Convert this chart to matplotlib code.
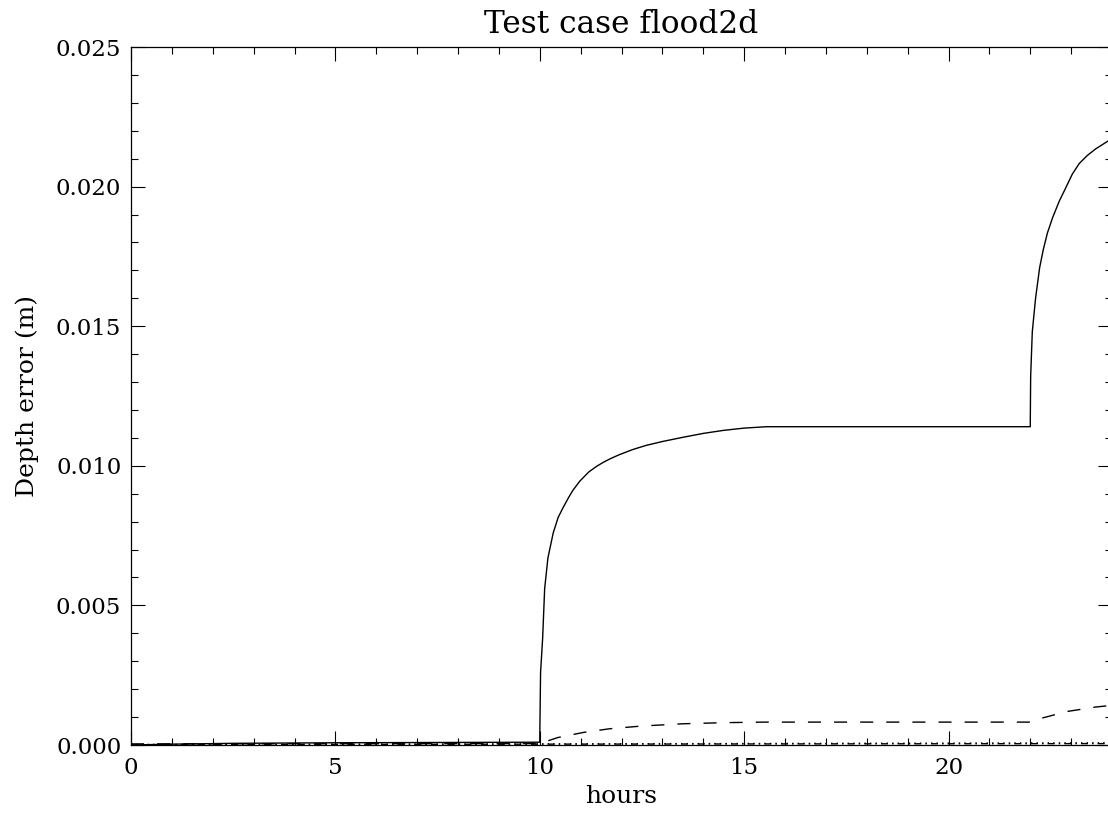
import matplotlib
matplotlib.use("Agg")
import matplotlib.pyplot as plt
from matplotlib.ticker import MultipleLocator, FormatStrFormatter

# Depth error time series (hours, metres)
hours_main = [0.0, 1.0, 2.5, 5.0, 7.5, 10.0, 10.005, 10.02, 10.07, 10.12, 10.2,
              10.33, 10.45, 10.57, 10.7, 10.81, 10.98, 11.2, 11.39, 11.55,
              11.72, 11.95, 12.27, 12.6, 13.0, 13.5, 14.0, 14.5, 15.0, 15.55,
              22.0, 22.01, 22.05, 22.13, 22.23, 22.32, 22.42, 22.55, 22.71,
              22.85, 23.03, 23.2, 23.4, 23.6, 23.89, 24.0]
err_main = [0.0, 0.00003, 0.00006, 0.00008, 0.00009, 0.0001, 0.0008, 0.0026,
            0.0038, 0.0056, 0.0067, 0.0076, 0.00815, 0.0085, 0.00885,
            0.00912, 0.00945, 0.00978, 0.00998, 0.01012, 0.01025, 0.0104,
            0.01058, 0.01073, 0.01087, 0.01102, 0.01116, 0.01127, 0.01135,
            0.0114,
            0.0114, 0.0132, 0.0148, 0.0160, 0.0171, 0.01775, 0.01834, 0.0189,
            0.01948, 0.0199, 0.02045, 0.02083, 0.02112, 0.02135, 0.02162,
            0.0217]

hours_dash = [0.0, 10.0, 10.2, 10.45, 11.07, 11.7, 12.5, 13.5, 14.5, 15.5,
              22.0, 22.2, 22.9, 23.6, 24.0]
err_dash = [0.00004, 0.00005, 0.00015, 0.00027, 0.00045, 0.00058, 0.00068,
            0.00076, 0.0008, 0.00082, 0.00082, 0.00093, 0.0012, 0.00136,
            0.00142]

hours_dot = [0.0, 10.0, 24.0]
err_dot = [0.00002, 0.00004, 0.00008]

hours_dashdot = [0.0, 10.0, 24.0]
err_dashdot = [0.00001, 0.00003, 0.00005]

title = "Test case flood2d"
xlabel = "hours"
ylabel = "Depth error (m)"

FONT = "DejaVu Serif"

fig = plt.figure(figsize=(11.08, 8.19), dpi=100)
ax = fig.add_axes([131 / 1108, 74 / 819, 981 / 1108, 698 / 819])

lw = 1.0
ax.plot(hours_main, err_main, color="black", lw=lw, solid_joinstyle="round")
ax.plot(hours_dash, err_dash, color="black", lw=lw, dashes=(9.4, 9.4))
ax.plot(hours_dot, err_dot, color="black", lw=lw, dashes=(1, 3))
ax.plot(hours_dashdot, err_dashdot, color="black", lw=lw, dashes=(5, 3, 1, 3))

ax.set_xlim(0, 24)
ax.set_ylim(0, 0.025)

ax.xaxis.set_major_locator(MultipleLocator(5))
ax.xaxis.set_minor_locator(MultipleLocator(1))
ax.yaxis.set_major_locator(MultipleLocator(0.005))
ax.yaxis.set_minor_locator(MultipleLocator(0.001))
ax.yaxis.set_major_formatter(FormatStrFormatter("%.3f"))
ax.xaxis.set_major_formatter(FormatStrFormatter("%d"))

ax.tick_params(which="both", direction="in", top=True, right=True,
               width=0.8, colors="black")
ax.tick_params(which="major", length=10)
ax.tick_params(which="minor", length=5)
ax.tick_params(axis="y", which="major", pad=7, labelsize=16.5)
ax.tick_params(axis="x", which="major", pad=9, labelsize=16.5)
for lab in ax.get_xticklabels() + ax.get_yticklabels():
    lab.set_fontfamily(FONT)
    lab.set_fontweight("light")

for sp in ax.spines.values():
    sp.set_linewidth(0.9)

ax.set_title(title, fontsize=22.5, fontfamily=FONT, pad=10)
ax.set_xlabel(xlabel, fontsize=18, fontfamily=FONT, labelpad=4)
ax.set_ylabel(ylabel, fontsize=18, fontfamily=FONT, labelpad=12)

fig.savefig("out.png", dpi=100)
